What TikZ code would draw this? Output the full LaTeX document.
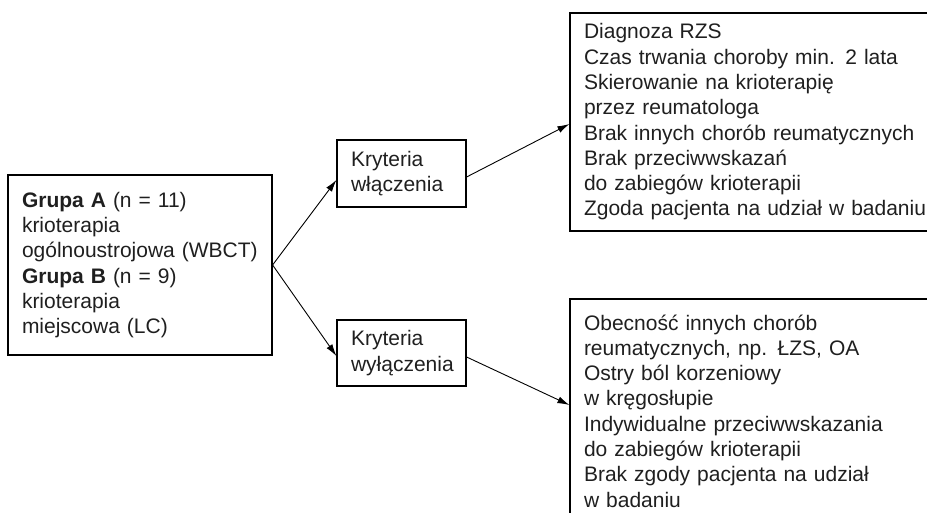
\documentclass[tikz,border=0pt]{standalone}
\usepackage{fontspec}
\setmainfont{Liberation Sans}
\usetikzlibrary{arrows.meta}
\begin{document}
\begin{tikzpicture}[x=1pt,y=-1pt,
  box/.style={draw, line width=1.2pt, align=left, inner xsep=14pt, inner ysep=0pt,
    font=\fontsize{21}{25.3}\selectfont, text=black!88},
  conn/.style={line width=0.9pt, -{Latex[length=12pt,width=7pt]}}]
\useasboundingbox (0,0) rectangle (927,513);
\clip (0,0) rectangle (927,513);
\node[box, text width=236pt, minimum height=180pt] (grp) at (140,265)
  {\textbf{Grupa A} (n = 11)\\krioterapia\\ogólnoustrojowa\mbox{ }(WBCT)\\\textbf{Grupa B} (n = 9)\\krioterapia\\miejscowa (LC)};
\node[box, text width=101pt, minimum height=67pt] (k1) at (401.5,173.5)
  {Kryteria\\włączenia};
\node[box, text width=101pt, minimum height=66pt] (k2) at (401.5,353)
  {Kryteria\\wyłączenia};
\node[box, text width=372pt, minimum height=218pt] (inc) at (770,122)
  {Diagnoza RZS\\Czas trwania choroby min. 2 lata\\Skierowanie na krioterapię\\przez reumatologa\\Brak innych chorób reumatycznych\\Brak przeciwwskazań\\do zabiegów krioterapii\\Zgoda pacjenta na udział w badaniu};
\node[box, text width=372pt, minimum height=224pt] (exc) at (770,411)
  {Obecność innych chorób\\reumatycznych, np. ŁZS, OA\\Ostry ból korzeniowy\\w kręgosłupie\\Indywidualne przeciwwskazania\\do zabiegów krioterapii\\Brak zgody pacjenta na udział\\w badaniu};
\draw[conn] (grp.east) -- ([yshift=-6.5pt]k1.west);
\draw[conn] (grp.east) -- ([yshift=-3pt]k2.west);
\draw[conn] ([yshift=-3.5pt]k1.east) -- ([yshift=-2pt]inc.west);
\draw[conn] ([yshift=-4pt]k2.east) -- ([yshift=6pt]exc.west);
\end{tikzpicture}
\end{document}
